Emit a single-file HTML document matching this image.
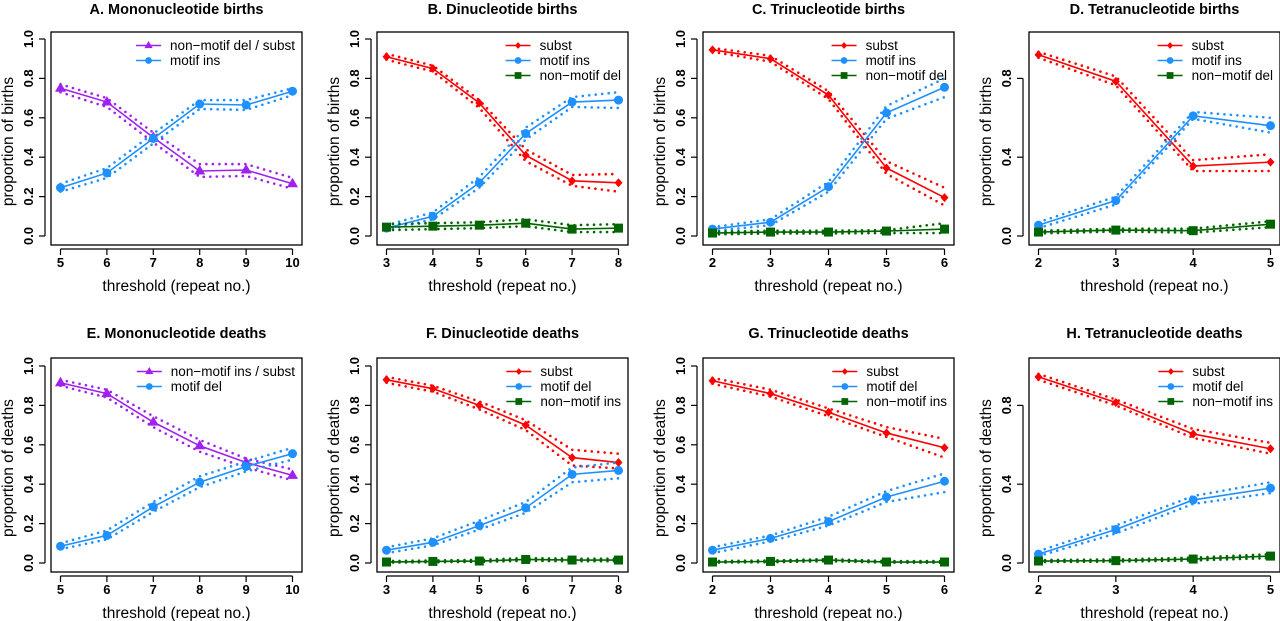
<!DOCTYPE html>
<html><head><meta charset="utf-8">
<style>
html,body{margin:0;padding:0;background:#fff;}
svg{display:block;font-family:"Liberation Sans",Arial,sans-serif;}
</style></head>
<body>
<svg id="chart" width="1280" height="621" viewBox="0 0 1280 621"></svg>
<script>
// ---- data ----
const xA = [5,6,7,8,9,10];
const A_purple = [0.75,0.68,0.50,0.33,0.335,0.265];
const A_purple_hi = [0.77,0.70,0.525,0.365,0.365,0.295];
const A_purple_lo = [0.73,0.655,0.475,0.30,0.305,0.24];
const A_blue = [0.245,0.32,0.495,0.67,0.665,0.735];
const A_blue_hi = [0.265,0.345,0.52,0.69,0.69,0.75];
const A_blue_lo = [0.225,0.295,0.47,0.645,0.64,0.715];

const xB = [3,4,5,6,7,8];
const B_red = [0.91,0.85,0.675,0.41,0.28,0.27];
const B_red_hi = [0.925,0.865,0.69,0.44,0.31,0.315];
const B_red_lo = [0.895,0.835,0.65,0.38,0.255,0.225];
const B_blue = [0.04,0.10,0.27,0.52,0.68,0.69];
const B_blue_hi = [0.055,0.12,0.30,0.55,0.705,0.73];
const B_blue_lo = [0.03,0.085,0.245,0.49,0.655,0.65];
const B_green = [0.045,0.05,0.055,0.065,0.035,0.04];
const B_green_hi = [0.06,0.065,0.07,0.085,0.055,0.06];
const B_green_lo = [0.03,0.035,0.04,0.05,0.02,0.02];

const xC = [2,3,4,5,6];
const C_red = [0.945,0.90,0.715,0.345,0.195];
const C_red_hi = [0.955,0.915,0.735,0.38,0.245];
const C_red_lo = [0.935,0.885,0.695,0.315,0.155];
const C_blue = [0.035,0.07,0.25,0.625,0.755];
const C_blue_hi = [0.045,0.085,0.275,0.66,0.80];
const C_blue_lo = [0.025,0.055,0.225,0.595,0.705];
const C_green = [0.015,0.02,0.02,0.025,0.035];
const C_green_hi = [0.022,0.027,0.027,0.03,0.065];
const C_green_lo = [0.008,0.013,0.013,0.015,0.015];

const xD = [2,3,4,5];
const D_red = [0.92,0.785,0.355,0.375];
const D_red_hi = [0.935,0.81,0.385,0.415];
const D_red_lo = [0.905,0.765,0.33,0.33];
const D_blue = [0.055,0.18,0.61,0.56];
const D_blue_hi = [0.07,0.20,0.63,0.60];
const D_blue_lo = [0.04,0.16,0.595,0.525];
const D_green = [0.02,0.03,0.027,0.06];
const D_green_hi = [0.027,0.037,0.037,0.075];
const D_green_lo = [0.013,0.023,0.017,0.045];

const xE = [5,6,7,8,9,10];
const E_purple = [0.915,0.86,0.715,0.595,0.51,0.445];
const E_purple_hi = [0.93,0.88,0.745,0.625,0.53,0.475];
const E_purple_lo = [0.90,0.84,0.69,0.565,0.485,0.42];
const E_blue = [0.085,0.14,0.285,0.41,0.49,0.555];
const E_blue_hi = [0.10,0.165,0.31,0.44,0.515,0.585];
const E_blue_lo = [0.07,0.12,0.26,0.385,0.465,0.525];

const xF = [3,4,5,6,7,8];
const F_red = [0.93,0.885,0.80,0.70,0.535,0.51];
const F_red_hi = [0.945,0.90,0.82,0.725,0.575,0.555];
const F_red_lo = [0.915,0.87,0.78,0.675,0.495,0.48];
const F_blue = [0.065,0.105,0.19,0.28,0.45,0.47];
const F_blue_hi = [0.08,0.125,0.215,0.31,0.485,0.51];
const F_blue_lo = [0.05,0.09,0.17,0.255,0.41,0.43];
const F_green = [0.005,0.008,0.01,0.018,0.015,0.015];
const F_green_hi = [0.01,0.013,0.016,0.025,0.022,0.022];
const F_green_lo = [0.002,0.004,0.006,0.011,0.009,0.009];

const xG = [2,3,4,5,6];
const G_red = [0.925,0.86,0.765,0.66,0.585];
const G_red_hi = [0.94,0.88,0.785,0.69,0.63];
const G_red_lo = [0.91,0.845,0.745,0.64,0.535];
const G_blue = [0.065,0.125,0.21,0.335,0.415];
const G_blue_hi = [0.08,0.14,0.235,0.365,0.455];
const G_blue_lo = [0.05,0.11,0.19,0.31,0.36];
const G_green = [0.005,0.008,0.015,0.005,0.005];
const G_green_hi = [0.01,0.013,0.02,0.01,0.01];
const G_green_lo = [0.002,0.004,0.009,0.002,0.002];

const xH = [2,3,4,5];
const H_red = [0.945,0.815,0.655,0.58];
const H_red_hi = [0.96,0.83,0.68,0.61];
const H_red_lo = [0.93,0.80,0.635,0.555];
const H_blue = [0.045,0.17,0.32,0.38];
const H_blue_hi = [0.06,0.19,0.34,0.41];
const H_blue_lo = [0.035,0.15,0.30,0.355];
const H_green = [0.01,0.012,0.02,0.035];
const H_green_hi = [0.015,0.018,0.027,0.045];
const H_green_lo = [0.005,0.007,0.013,0.025];

const ticks10 = [0,0.2,0.4,0.6,0.8,1.0];
const ticks08 = [0,0.4,0.8];
const titles = ["A. Mononucleotide births","B. Dinucleotide births","C. Trinucleotide births","D. Tetranucleotide births",
                "E. Mononucleotide deaths","F. Dinucleotide deaths","G. Trinucleotide deaths","H. Tetranucleotide deaths"];

const COL = {purple:"#a020f0", blue:"#1e90ff", green:"#006400", red:"#ff0000"};

const panels = [
 {x:xA, yt:ticks10, lab:"proportion of births", series:[
   {c:"purple",m:"tri",v:A_purple,hi:A_purple_hi,lo:A_purple_lo,name:"non\u2212motif del / subst"},
   {c:"blue",m:"circ",v:A_blue,hi:A_blue_hi,lo:A_blue_lo,name:"motif ins"}]},
 {x:xB, yt:ticks10, lab:"proportion of births", series:[
   {c:"red",m:"dia",v:B_red,hi:B_red_hi,lo:B_red_lo,name:"subst"},
   {c:"blue",m:"circ",v:B_blue,hi:B_blue_hi,lo:B_blue_lo,name:"motif ins"},
   {c:"green",m:"sq",v:B_green,hi:B_green_hi,lo:B_green_lo,name:"non\u2212motif del"}]},
 {x:xC, yt:ticks10, lab:"proportion of births", series:[
   {c:"red",m:"dia",v:C_red,hi:C_red_hi,lo:C_red_lo,name:"subst"},
   {c:"blue",m:"circ",v:C_blue,hi:C_blue_hi,lo:C_blue_lo,name:"motif ins"},
   {c:"green",m:"sq",v:C_green,hi:C_green_hi,lo:C_green_lo,name:"non\u2212motif del"}]},
 {x:xD, yt:ticks08, lab:"proportion of births", series:[
   {c:"red",m:"dia",v:D_red,hi:D_red_hi,lo:D_red_lo,name:"subst"},
   {c:"blue",m:"circ",v:D_blue,hi:D_blue_hi,lo:D_blue_lo,name:"motif ins"},
   {c:"green",m:"sq",v:D_green,hi:D_green_hi,lo:D_green_lo,name:"non\u2212motif del"}]},
 {x:xE, yt:ticks10, lab:"proportion of deaths", series:[
   {c:"purple",m:"tri",v:E_purple,hi:E_purple_hi,lo:E_purple_lo,name:"non\u2212motif ins / subst"},
   {c:"blue",m:"circ",v:E_blue,hi:E_blue_hi,lo:E_blue_lo,name:"motif del"}]},
 {x:xF, yt:ticks10, lab:"proportion of deaths", series:[
   {c:"red",m:"dia",v:F_red,hi:F_red_hi,lo:F_red_lo,name:"subst"},
   {c:"blue",m:"circ",v:F_blue,hi:F_blue_hi,lo:F_blue_lo,name:"motif del"},
   {c:"green",m:"sq",v:F_green,hi:F_green_hi,lo:F_green_lo,name:"non\u2212motif ins"}]},
 {x:xG, yt:ticks10, lab:"proportion of deaths", series:[
   {c:"red",m:"dia",v:G_red,hi:G_red_hi,lo:G_red_lo,name:"subst"},
   {c:"blue",m:"circ",v:G_blue,hi:G_blue_hi,lo:G_blue_lo,name:"motif del"},
   {c:"green",m:"sq",v:G_green,hi:G_green_hi,lo:G_green_lo,name:"non\u2212motif ins"}]},
 {x:xH, yt:ticks08, lab:"proportion of deaths", series:[
   {c:"red",m:"dia",v:H_red,hi:H_red_hi,lo:H_red_lo,name:"subst"},
   {c:"blue",m:"circ",v:H_blue,hi:H_blue_hi,lo:H_blue_lo,name:"motif del"},
   {c:"green",m:"sq",v:H_green,hi:H_green_hi,lo:H_green_lo,name:"non\u2212motif ins"}]}
];

const NS = "http://www.w3.org/2000/svg";
const svg = document.getElementById("chart");
function el(tag, attrs, parent, txt){
  const e = document.createElementNS(NS, tag);
  for (const k in attrs) e.setAttribute(k, attrs[k]);
  if (txt !== undefined) e.textContent = txt;
  (parent||svg).appendChild(e);
  return e;
}
function marker(g, m, cx, cy, col, s){
  let e;
  if (m==="circ") e = el("circle",{cx:cx,cy:cy,r:4.5*s,fill:col},g);
  else if (m==="sq") e = el("rect",{x:cx-4.5*s,y:cy-4.5*s,width:9*s,height:9*s,fill:col},g);
  else if (m==="tri") e = el("polygon",{points:`${cx},${cy-6*s} ${cx+5.5*s},${cy+3.5*s} ${cx-5.5*s},${cy+3.5*s}`,fill:col},g);
  else e = el("polygon",{points:`${cx},${cy-4.5*s} ${cx+4*s},${cy} ${cx},${cy+4.5*s} ${cx-4*s},${cy}`,fill:col},g);
  return e;
}

panels.forEach((p, i) => {
  const c = i % 4, r = Math.floor(i / 4);
  const L = 51 + 326*c, R = L + 251;
  const T = r ? 358 : 32, B = r ? 572 : 245;
  const y0 = 236 + 327*r, y1 = 39 + 327*r;
  const xmin = p.x[0], xmax = p.x[p.x.length-1];
  const sx = v => (L+9.5) + (v - xmin) / (xmax - xmin) * (R - L - 19);
  const sy = v => y0 - v * (y0 - y1);

  const g = el("g", {});
  
  

  const title = el("text",{x:(L+R)/2, y:r?338:14, "text-anchor":"middle","font-size":14.5,"font-weight":"bold",fill:"#000"},g,titles[i]);
  
  

  p.series.forEach(s => {
    const col = COL[s.c];
    const sg = el("g",{},g);
    
    
    [s.hi, s.lo].forEach(arr => {
      const d = arr.map((v,k)=>`${sx(p.x[k])},${sy(v)}`).join(" ");
      const ci = el("polyline",{points:d,fill:"none",stroke:col,"stroke-width":2.6,"stroke-linecap":"round","stroke-dasharray":"0 6.5"},sg);
      
      
    });
    const ln = el("polyline",{points:s.v.map((v,k)=>`${sx(p.x[k])},${sy(v)}`).join(" "),fill:"none",stroke:col,"stroke-width":1.6},sg);
    
    
    s.v.forEach((v,k) => {
      const mk = marker(sg, s.m, sx(p.x[k]), sy(v), col, 1);
      
      
    });
  });

  const box = el("rect",{x:L,y:T,width:R-L,height:B-T,fill:"none",stroke:"#000","stroke-width":1.3},g);
  
  

  const ya = el("g",{},g);
  
  
  el("line",{x1:L-6,x2:L-6,y1:sy(p.yt[0]),y2:sy(p.yt[p.yt.length-1]),stroke:"#000","stroke-width":1.2},ya);
  p.yt.forEach(t => {
    el("line",{x1:L-12,x2:L-6,y1:sy(t),y2:sy(t),stroke:"#000","stroke-width":1.2},ya);
    const tl = el("text",{x:0,y:0,transform:`translate(${L-18},${sy(t)}) rotate(-90)`,"text-anchor":"middle","font-size":13,"font-weight":"bold",fill:"#000"},ya,t.toFixed(1));
    
    
  });
  const yl = el("text",{x:0,y:0,transform:`translate(${L-38},${(T+B)/2+3}) rotate(-90)`,"text-anchor":"middle","font-size":15.5,fill:"#000"},ya,p.lab);
  
  

  const xa = el("g",{},g);
  
  
  el("line",{x1:sx(xmin),x2:sx(xmax),y1:B+4,y2:B+4,stroke:"#000","stroke-width":1.2},xa);
  p.x.forEach(t => {
    el("line",{x1:sx(t),x2:sx(t),y1:B+4,y2:B+10,stroke:"#000","stroke-width":1.2},xa);
    const tl = el("text",{x:sx(t),y:B+22,"text-anchor":"middle","font-size":13,"font-weight":"bold",fill:"#000"},xa,String(t));
    
    
  });
  const xl = el("text",{x:(L+R)/2,y:B+46,"text-anchor":"middle","font-size":15.5,fill:"#000"},xa,"threshold (repeat no.)");
  
  

  const lg = el("g",{},g);
  
  
  const texts = [];
  p.series.forEach((s,k) => {
    const t = el("text",{x:0,y:T+18+15*k,"font-size":13.5,fill:"#000"},lg,s.name);
    
    
    texts.push(t);
  });
  let w = 0; texts.forEach(t => { w = Math.max(w, t.getComputedTextLength()); });
  const tx = R - 7 - w;
  p.series.forEach((s,k) => {
    const col = COL[s.c], yy = T + 13.5 + 15*k;
    texts[k].setAttribute("x", tx);
    el("line",{x1:tx-34,x2:tx-9,y1:yy,y2:yy,stroke:col,"stroke-width":1.6},lg);
    marker(lg, s.m, tx-21.5, yy, col, 0.75);
  });
});
</script>
</body></html>
